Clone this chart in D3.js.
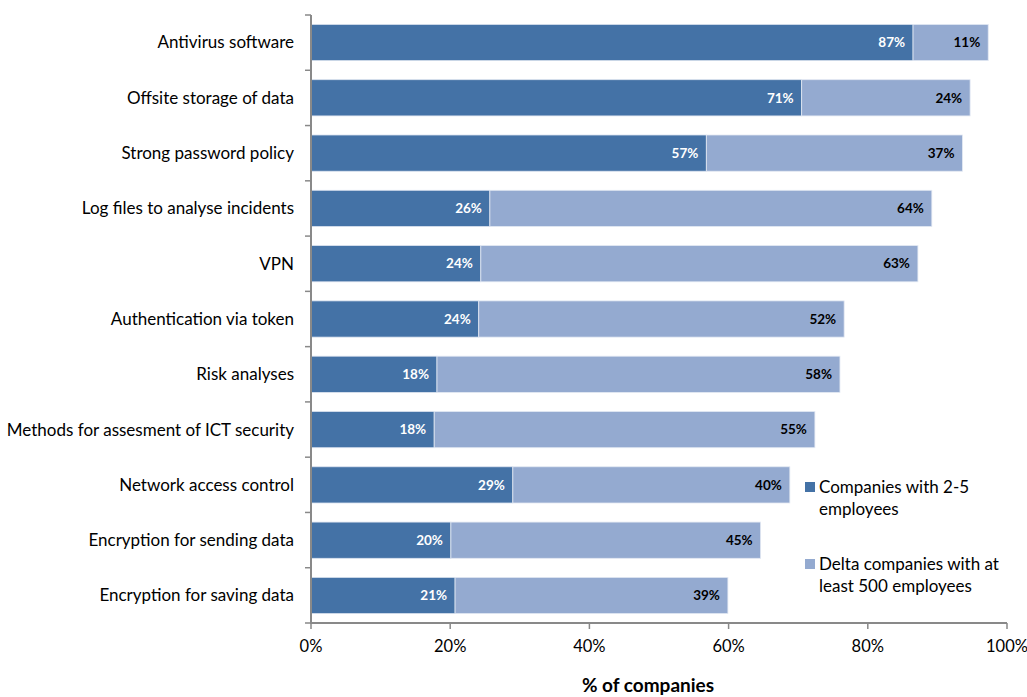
<!DOCTYPE html>
<html><head><meta charset="utf-8">
<script src="https://cdn.jsdelivr.net/npm/d3@7"></script>
<style>body{margin:0;background:#fff}svg{display:block}</style>
</head><body>
<svg id="c" width="1027" height="697"></svg>
<script>
const categories = ["Antivirus software","Offsite storage of data","Strong password policy","Log files to analyse incidents","VPN","Authentication via token","Risk analyses","Methods for assesment of ICT security","Network access control","Encryption for sending data","Encryption for saving data"];
const small = [86.5,70.5,56.8,25.7,24.4,24.1,18.1,17.7,29.0,20.1,20.7];
const delta = [10.8,24.2,36.8,63.5,62.8,52.5,57.9,54.7,39.8,44.5,39.2];
const smallLabels = ["87%","71%","57%","26%","24%","24%","18%","18%","29%","20%","21%"];
const deltaLabels = ["11%","24%","37%","64%","63%","52%","58%","55%","40%","45%","39%"];
const ticks = [0,20,40,60,80,100];
const seriesNames = ["Companies with 2-5 employees","Delta companies with at least 500 employees"];
const colors = ["#4472A6","#94AAD0"];

const svg = d3.select("#c");
const font = "Lato, 'Open Sans', sans-serif";
const x = d3.scaleLinear().domain([0,100]).range([311,1007]);
const y = d3.scaleBand().domain(categories).range([15,623]).paddingInner(0.345).paddingOuter(0.17);

const g = svg.append("g");
categories.forEach((c,i)=>{
  g.append("rect").attr("x",x(0)).attr("y",y(c)).attr("width",x(small[i])-x(0)).attr("height",y.bandwidth())
    .attr("fill",colors[0]).attr("stroke","#dbe3ef").attr("stroke-width",0.8);
  g.append("rect").attr("x",x(small[i])).attr("y",y(c)).attr("width",x(small[i]+delta[i])-x(small[i])).attr("height",y.bandwidth())
    .attr("fill",colors[1]).attr("stroke","#e3e9f3").attr("stroke-width",0.8);
  g.append("text").attr("x",x(small[i])-8).attr("y",y(c)+y.bandwidth()/2).attr("dy","0.35em")
    .attr("text-anchor","end").attr("fill","#fff").attr("font-weight","bold").attr("font-size",13.5).attr("font-family",font).text(smallLabels[i]);
  g.append("text").attr("x",x(small[i]+delta[i])-8).attr("y",y(c)+y.bandwidth()/2).attr("dy","0.35em")
    .attr("text-anchor","end").attr("fill","#000").attr("font-weight","bold").attr("font-size",13.5).attr("font-family",font).text(deltaLabels[i]);
});

const yAxisG = svg.append("g");
yAxisG.append("line").attr("x1",311).attr("x2",311).attr("y1",15).attr("y2",623).attr("stroke","#898989").attr("stroke-width",2);
for(let i=0;i<=categories.length;i++){
  const yy = 15 + i*(608/categories.length);
  yAxisG.append("line").attr("x1",305).attr("x2",311).attr("y1",yy).attr("y2",yy).attr("stroke","#898989").attr("stroke-width",1.5);
}
categories.forEach(c=>{
  yAxisG.append("text").attr("x",294).attr("y",y(c)+y.bandwidth()/2).attr("dy","0.35em").attr("text-anchor","end")
    .attr("font-size",17).attr("font-family",font).attr("fill","#000").text(c);
});

const xAxisG = svg.append("g");
xAxisG.append("line").attr("x1",310).attr("x2",1007).attr("y1",623).attr("y2",623).attr("stroke","#898989").attr("stroke-width",2);
ticks.forEach(t=>{
  xAxisG.append("line").attr("x1",x(t)).attr("x2",x(t)).attr("y1",623).attr("y2",629).attr("stroke","#898989").attr("stroke-width",1.5);
  xAxisG.append("text").attr("x",x(t)).attr("y",646).attr("dy","0.35em").attr("text-anchor","middle")
    .attr("font-size",16.5).attr("font-family",font).attr("fill","#000").text(t+"%");
});
svg.append("text").attr("x",648).attr("y",692).attr("text-anchor","middle").attr("font-weight","bold")
  .attr("font-size",19).attr("font-family",font).attr("fill","#000").text("% of companies");

const leg = [
  {lines:["Companies with 2-5","employees"], y:482},
  {lines:["Delta companies with at","least 500 employees"], y:559}
];
leg.forEach((l,i)=>{
  svg.append("rect").attr("x",805).attr("y",l.y).attr("width",10).attr("height",10).attr("fill",colors[i]);
  l.lines.forEach((t,j)=>{
    svg.append("text").attr("x",819).attr("y",l.y+5+j*22).attr("dy","0.35em").attr("font-size",17)
      .attr("font-family",font).attr("fill","#000").text(t);
  });
});
</script>
</body></html>
